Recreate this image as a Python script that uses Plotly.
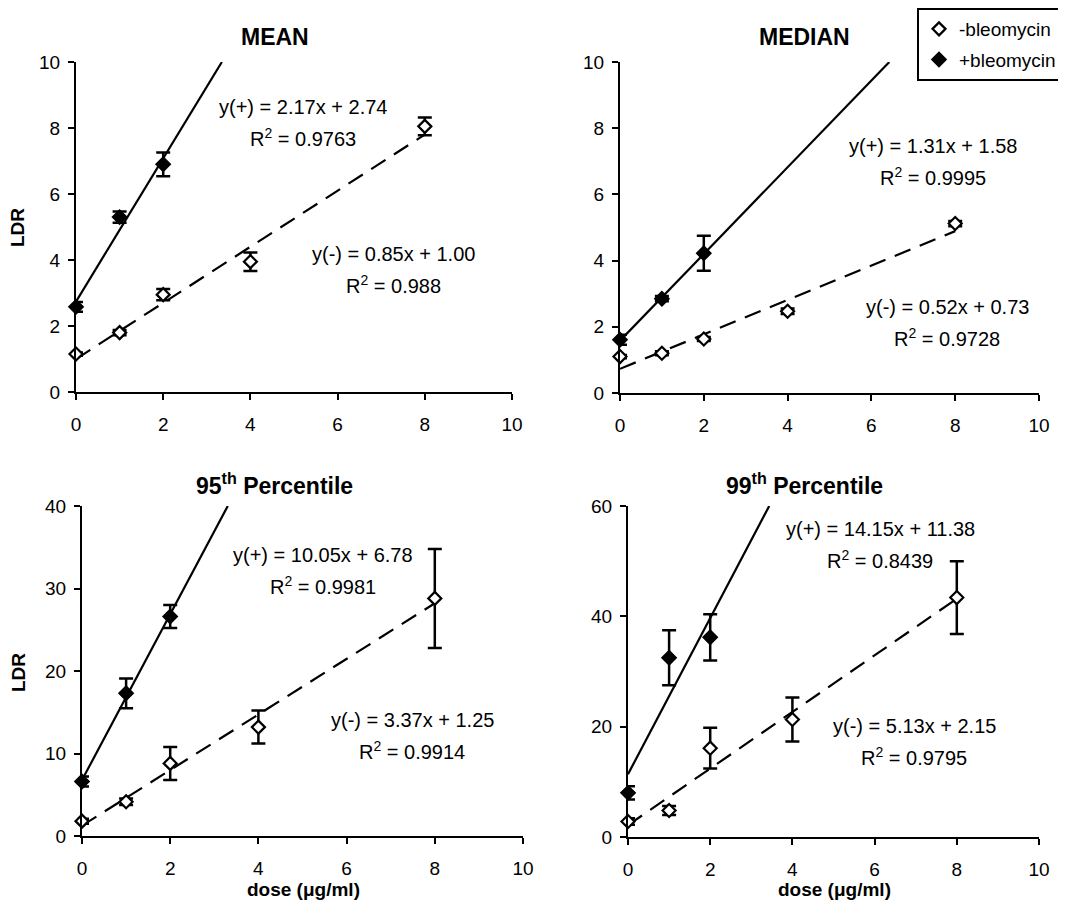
import plotly.graph_objects as go

# ---------------- data ----------------
dose_minus = [0, 1, 2, 4, 8]
dose_plus = [0, 1, 2]

panel_titles = ["MEAN", "MEDIAN", "95<sup>th</sup> Percentile", "99<sup>th</sup> Percentile"]
y_max = [10, 10, 40, 60]
y_dtick = [2, 2, 10, 20]
x_ticks = [0, 2, 4, 6, 8, 10]

# -bleomycin (open diamonds)
mean_minus = [1.15, 1.80, 2.95, 3.95, 8.05]
mean_minus_err = [0.05, 0.08, 0.17, 0.28, 0.27]
median_minus = [1.10, 1.20, 1.63, 2.47, 5.12]
median_minus_err = [0.05, 0.06, 0.06, 0.08, 0.08]
p95_minus = [1.8, 4.15, 8.8, 13.2, 28.8]
p95_minus_err = [0.3, 0.4, 2.0, 2.0, 6.0]
p99_minus = [2.8, 4.8, 16.1, 21.3, 43.4]
p99_minus_err = [0.6, 0.8, 3.7, 4.0, 6.6]

# +bleomycin (filled diamonds)
mean_plus = [2.58, 5.30, 6.90]
mean_plus_err = [0.15, 0.17, 0.36]
median_plus = [1.61, 2.85, 4.22]
median_plus_err = [0.15, 0.08, 0.53]
p95_plus = [6.6, 17.3, 26.6]
p95_plus_err = [0.6, 1.8, 1.4]
p99_plus = [8.0, 32.5, 36.2]
p99_plus_err = [1.2, 5.0, 4.2]

# linear fits shown on the chart
slope_plus = [2.17, 1.31, 10.05, 14.15]
icpt_plus = [2.74, 1.58, 6.78, 11.38]
r2_plus = ["0.9763", "0.9995", "0.9981", "0.8439"]
slope_minus = [0.85, 0.52, 3.37, 5.13]
icpt_minus = [1.00, 0.73, 1.25, 2.15]
r2_minus = ["0.988", "0.9728", "0.9914", "0.9795"]

minus_series = [(mean_minus, mean_minus_err), (median_minus, median_minus_err),
                (p95_minus, p95_minus_err), (p99_minus, p99_minus_err)]
plus_series = [(mean_plus, mean_plus_err), (median_plus, median_plus_err),
               (p95_plus, p95_plus_err), (p99_plus, p99_plus_err)]

# ---------------- layout geometry (page pixels) ----------------
PAGE_W, PAGE_H = 1066, 903
OFF = 8                      # default body margin of the html page
W, H = PAGE_W - OFF, PAGE_H - OFF


def px(xp):
    return (xp - OFF) / W


def py(yp):
    return 1 - (yp - OFF) / H


# plot area boxes: (x0, x1, ytop, ybottom)
boxes = [(76, 512, 62, 392), (620, 1039, 62, 393),
         (82, 523, 506, 836), (628, 1039, 506, 837)]
title_pos = [(275, 37), (804, 37), (274, 484), (804, 484)]
eq_plus_pos = [(303, 107), (933, 146), (323, 555), (880, 529)]
eq_minus_pos = [(393, 254), (947, 307), (412, 720), (914, 726)]

FONT = "Liberation Sans, Arial, Helvetica, sans-serif"

fig = go.Figure()
annotations = []


def ann(xp, yp, text, size, bold=False, angle=0):
    annotations.append(dict(
        x=px(xp), y=py(yp), xref="paper", yref="paper",
        text=f"<b>{text}</b>" if bold else text, showarrow=False,
        xanchor="center", yanchor="middle", textangle=angle,
        font=dict(family=FONT, size=size, color="black")))


layout_axes = {}
for i in range(4):
    n = i + 1
    xa = "x" if n == 1 else f"x{n}"
    ya = "y" if n == 1 else f"y{n}"
    x0, x1, yt, yb = boxes[i]
    ymax = y_max[i]

    # fit lines
    xe_p = min(8.0, (ymax - icpt_plus[i]) / slope_plus[i])
    fig.add_trace(go.Scatter(
        x=[0, xe_p], y=[icpt_plus[i], icpt_plus[i] + slope_plus[i] * xe_p],
        mode="lines", line=dict(color="black", width=2.2),
        xaxis=xa, yaxis=ya, showlegend=False, hoverinfo="skip"))
    xe_m = 8.0
    fig.add_trace(go.Scatter(
        x=[0, xe_m], y=[icpt_minus[i], icpt_minus[i] + slope_minus[i] * xe_m],
        mode="lines", line=dict(color="black", width=2.2, dash="17px,10px"),
        xaxis=xa, yaxis=ya, showlegend=False, hoverinfo="skip"))

    # data markers
    yv, ye = plus_series[i]
    fig.add_trace(go.Scatter(
        x=dose_plus, y=yv, mode="markers", name="+bleomycin",
        legendgroup="plus", legendrank=2, showlegend=(i == 0), cliponaxis=False,
        marker=dict(symbol="diamond", size=11, color="black",
                    line=dict(color="black", width=1.5)),
        error_y=dict(type="data", array=ye, visible=True, color="black",
                     thickness=2.5, width=7),
        xaxis=xa, yaxis=ya))
    yv, ye = minus_series[i]
    fig.add_trace(go.Scatter(
        x=dose_minus, y=yv, mode="markers", name="-bleomycin",
        legendgroup="minus", legendrank=1, showlegend=(i == 0), cliponaxis=False,
        marker=dict(symbol="diamond", size=10, color="white",
                    line=dict(color="black", width=2.2)),
        error_y=dict(type="data", array=ye, visible=True, color="black",
                     thickness=2.5, width=7),
        xaxis=xa, yaxis=ya))

    axis_common = dict(showline=True, linecolor="black", linewidth=2,
                       ticks="outside", ticklen=6, tickwidth=1.5, tickcolor="black",
                       showgrid=False, zeroline=False, automargin=False,
                       tickfont=dict(family=FONT, size=19, color="black"))
    layout_axes["xaxis" if n == 1 else f"xaxis{n}"] = dict(
        domain=[px(x0), px(x1)], anchor=ya, range=[0, 10],
        tickvals=x_ticks, ticklabelstandoff=8, **axis_common)
    layout_axes["yaxis" if n == 1 else f"yaxis{n}"] = dict(
        domain=[py(yb), py(yt)], anchor=xa, range=[0, ymax],
        dtick=y_dtick[i], tick0=0, ticklabelstandoff=4, **axis_common)

    # text
    ann(*title_pos[i], panel_titles[i], 23, bold=True)
    ann(eq_plus_pos[i][0], eq_plus_pos[i][1],
        f"y(+) = {slope_plus[i]:.2f}x + {icpt_plus[i]:.2f}", 20)
    ann(eq_plus_pos[i][0], eq_plus_pos[i][1] + 30, f"R<sup>2</sup> = {r2_plus[i]}", 20)
    ann(eq_minus_pos[i][0], eq_minus_pos[i][1],
        f"y(-) = {slope_minus[i]:.2f}x + {icpt_minus[i]:.2f}", 20)
    ann(eq_minus_pos[i][0], eq_minus_pos[i][1] + 30, f"R<sup>2</sup> = {r2_minus[i]}", 20)

ann(18, 228, "LDR", 19, bold=True, angle=-90)
ann(18, 673, "LDR", 19, bold=True, angle=-90)
ann(303, 889, "dose (μg/ml)", 19, bold=True)
ann(834, 889, "dose (μg/ml)", 19, bold=True)

fig.update_layout(
    width=W, height=H, margin=dict(l=0, r=0, t=0, b=0, autoexpand=False),
    paper_bgcolor="white", plot_bgcolor="white",
    showlegend=True,
    legend=dict(x=px(917), y=py(8), xanchor="left", yanchor="top",
                bordercolor="black", borderwidth=2, bgcolor="white",
                traceorder="grouped", tracegroupgap=3, itemwidth=30,
                font=dict(family=FONT, size=19, color="black")),
    annotations=annotations,
    **layout_axes)

fig.write_html("out.html")
